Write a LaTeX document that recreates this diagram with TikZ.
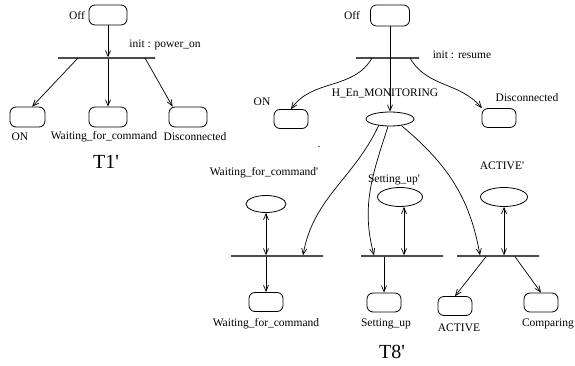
\documentclass[tikz,border=0pt]{standalone}
\usepackage{fontspec}
\setmainfont{Liberation Serif}
\usetikzlibrary{arrows.meta, shapes.geometric}

\begin{document}
\begin{tikzpicture}[x=1pt, y=-1pt,
    every node/.style={font=\fontsize{11.5}{13}\selectfont, inner sep=0pt},
    state/.style={draw, rounded corners=6pt, minimum width=38pt, minimum height=20pt, line width=0.8pt},
    small/.style={minimum width=34pt, minimum height=19pt},
    hist/.style={draw, ellipse, line width=0.8pt},
    bar/.style={draw=black!70, line width=1.4pt, minimum height=0pt},
    title/.style={font=\fontsize{20}{22}\selectfont},
    trans/.style={line width=0.7pt, -{Straight Barb[length=6pt,width=5pt]}},
    both/.style={line width=0.7pt, {Straight Barb[length=6pt,width=5pt]}-{Straight Barb[length=6pt,width=5pt]}},
  ]
  \useasboundingbox (0,0) rectangle (575,366);

  % T1'
  \node[state] (off1) at (108,15) {};
  \node (off1lbl) at (77,16) {Off};
  \node[bar, minimum width=97pt] (bar1) at (106.5,58) {};
  \node (init1) at (165,45) {init : power\_on};
  \node[state, minimum width=35pt] (on1) at (27.5,117) {};
  \node[state] (wait1) at (108,117) {};
  \node[state] (disc1) at (188,117) {};
  \node (on1lbl) at (20,137) {ON};
  \node (wait1lbl) at (104,137) {Waiting\_for\_command};
  \node (disc1lbl) at (195,137) {Disconnected};
  \node[title] (t1) at (106,162) {T1\textquotesingle};
  \coordinate (bar1a) at (78,58);
  \coordinate (bar1c) at (145,58);
  \draw[trans] (off1) -- (off1 |- bar1.north);
  \draw[trans] (bar1a) -- (on1.66);
  \draw[trans] (bar1.south -| wait1) -- (wait1);
  \draw[trans] (bar1c) -- (disc1.146);

  % T8'
  \node[state, minimum width=39pt, minimum height=21pt] (off2) at (390,15.5) {};
  \node (off2lbl) at (352,16) {Off};
  \node[bar, minimum width=63pt] (bar2) at (387.5,58) {};
  \node (init2) at (462,55) {init : resume};
  \node[hist, minimum width=48pt, minimum height=14pt] (mon) at (390,119) {};
  \node (monlbl) at (385,93) {H\_En\_MONITORING};
  \node[state, small] (on2) at (291,119) {};
  \node (on2lbl) at (262,102) {ON};
  \node[state, small] (disc2) at (499,118) {};
  \node (disc2lbl) at (527,98) {Disconnected};
  \node (dot) at (319,147) {.};
  \coordinate (bar2a) at (372,58);
  \coordinate (bar2c) at (410,58);
  \draw[trans] (off2) -- (mon);
  \draw[trans] (bar2a) to[out=-120, in=55] (on2.north);
  \draw[trans] (bar2c) to[out=-60, in=130] (disc2.150);

  % Waiting_for_command
  \node[hist, minimum width=40pt, minimum height=17pt] (wfcH) at (266,204) {};
  \node (wfcHlbl) at (264,173) {Waiting\_for\_command\textquotesingle};
  \node[bar, minimum width=92pt] (bar3) at (277,256) {};
  \node[state, small] (wfc) at (266,302) {};
  \node (wfclbl) at (266,324) {Waiting\_for\_command};
  \coordinate (bar3b) at (303,256);
  \draw[both] (wfcH) -- (wfcH |- bar3.north);
  \draw[trans] (bar3.south -| wfcH) -- (wfc);
  \draw[trans] (mon.210) to[out=-115, in=80] (bar3b |- bar3.north);

  % Setting_up
  \node[hist, minimum width=45pt, minimum height=19pt] (suH) at (400,197) {};
  \node (suHlbl) at (394,180) {Setting\_up\textquotesingle};
  \node[bar, minimum width=82pt] (bar4) at (402,256) {};
  \node[state, small] (su) at (384,302.5) {};
  \node (sulbl) at (386,324) {Setting\_up};
  \coordinate (bar4a) at (374,256);
  \coordinate (bar4b) at (404,256);
  \draw[both] (bar4b |- suH.south) -- (bar4b |- bar4.north);
  \draw[trans] (bar4.south -| su) -- (su);
  \draw[trans] (mon.255) to[out=-108, in=105] (bar4a |- bar4.north);

  % ACTIVE
  \node[hist, minimum width=47pt, minimum height=19pt] (actH) at (504,197) {};
  \node (actHlbl) at (502,166) {ACTIVE\textquotesingle};
  \node[bar, minimum width=82pt] (bar5) at (498,256) {};
  \node[state, small] (act) at (455,306) {};
  \node (actlbl) at (459,328) {ACTIVE};
  \node[state, small] (cmp) at (541,302.5) {};
  \node[anchor=east] (cmplbl) at (574,324) {Comparing};
  \coordinate (bar5a) at (480,256);
  \coordinate (bar5b) at (486,256);
  \coordinate (bar5c) at (515,256);
  \draw[both] (actH) -- (actH |- bar5.north);
  \draw[trans] (bar5b |- bar5.south) -- (act.north);
  \draw[trans] (bar5c |- bar5.south) -- (cmp.north);
  \draw[trans] (mon.330) to[out=-40, in=100] (bar5a |- bar5.north);
  \node[title] (t8) at (392,352) {T8\textquotesingle};
\end{tikzpicture}
\end{document}
